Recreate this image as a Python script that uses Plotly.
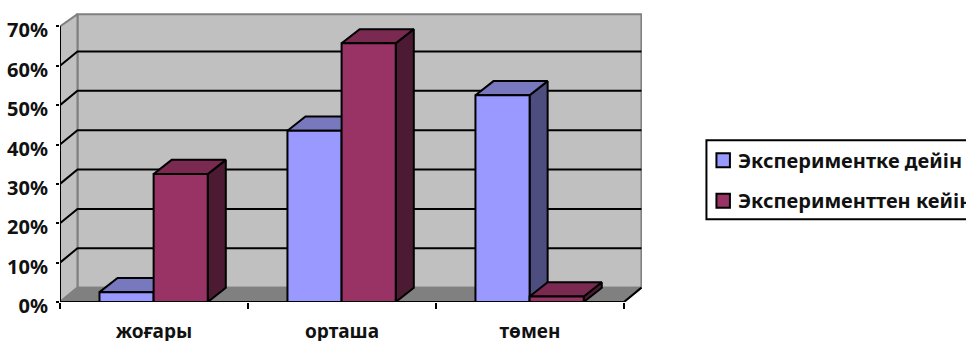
import plotly.graph_objects as go

categories = ["жоғары", "орташа", "төмен"]
series_names = ["Экспериментке дейін", "Эксперименттен кейін"]
before_values = [2.5, 43.5, 52.5]
after_values = [32.5, 65.7, 1.4]
y_ticks = [0, 10, 20, 30, 40, 50, 60, 70]

FRONT = ["#9999FF", "#993366"]
TOP = ["#7878BE", "#7A2950"]
SIDE = ["#4D4D80", "#4D1A33"]
WALL = "#C0C0C0"
FLOOR = "#808080"
EDGE = "#000000"

WIDTH, HEIGHT = 966, 341
LEFT, RIGHT = 60, 642.5
BOTTOM = 301.7
WALL_DX, WALL_DY = 0.093, 3.65
BAR_DX, BAR_DY = 0.096, 3.6
BAR_W = 0.288
WALL_TOP = 73.1
X0, X1 = -0.5, 2.5
Y_MAX = 73.65
TOP_PX = 11.6

fig = go.Figure()


def poly(xs, ys, fill, line=EDGE, width=2, name=""):
    fig.add_trace(go.Scatter(
        x=list(xs) + [xs[0]], y=list(ys) + [ys[0]], mode="lines", fill="toself",
        fillcolor=fill, line=dict(color=line, width=width), name=name,
        hoverinfo="skip", showlegend=False, cliponaxis=False,
    ))


def seg(xs, ys, color=EDGE, width=2):
    fig.add_trace(go.Scatter(
        x=xs, y=ys, mode="lines", line=dict(color=color, width=width),
        hoverinfo="skip", showlegend=False, cliponaxis=False,
    ))


# Room behind the bars: back wall, side wall and floor
bx0, bx1 = X0 + WALL_DX, X1 + WALL_DX
poly([bx0, bx1, bx1, bx0], [WALL_DY, WALL_DY, WALL_TOP, WALL_TOP], WALL, line=FLOOR, name="wall")
poly([X0, X0, bx0, bx0], [0, 70, WALL_TOP, WALL_DY], WALL, line=FLOOR, name="side wall")
poly([X0, X1, bx1, bx0], [0, 0, WALL_DY, WALL_DY], FLOOR, line=FLOOR, name="floor")

# Gridlines run along the back wall and step down the side wall
for v in y_ticks[1:-1]:
    seg([X0, bx0, bx1], [v, v + WALL_DY, v + WALL_DY])
seg([X1, bx1], [0, WALL_DY])


# One box per value, painted back to front within each group
def box(left, value, s):
    right = left + BAR_W
    poly([right, right + BAR_DX, right + BAR_DX, right],
         [0, BAR_DY, value + BAR_DY, value], SIDE[s], name=series_names[s])
    poly([left, right, right + BAR_DX, left + BAR_DX],
         [value, value, value + BAR_DY, value + BAR_DY], TOP[s], name=series_names[s])
    poly([left, right, right, left], [0, 0, value, value], FRONT[s], name=series_names[s])


for i in range(len(categories)):
    box(i - 0.002 - BAR_W, before_values[i], 0)
    box(i - 0.002, after_values[i], 1)

# Front axis lines
seg([X0, X0], [0, 70])
seg([X0, X1], [0, 0])

font = dict(family="Noto Sans", size=20, color="#111111", weight=700)
cat_font = dict(family="Noto Sans", size=19, color="#111111", weight=700)

fig.update_layout(
    width=WIDTH, height=HEIGHT, autosize=False,
    margin=dict(l=LEFT, r=WIDTH - RIGHT, t=TOP_PX, b=HEIGHT - BOTTOM, pad=0, autoexpand=False),
    paper_bgcolor="#FFFFFF", plot_bgcolor="#FFFFFF", showlegend=False,
    xaxis=dict(
        range=[X0, X1 + WALL_DX + 0.003], tickmode="array",
        tickvals=list(range(len(categories))), ticktext=categories,
        ticks="", ticklen=0, ticklabelstandoff=16, showgrid=False, zeroline=False, showline=False,
        tickfont=cat_font,
        minor=dict(tickmode="array", tickvals=[-0.5, 0.5, 1.5, 2.5], ticks="outside",
                   ticklen=6, tickwidth=2, tickcolor=EDGE, showgrid=False),
    ),
    yaxis=dict(
        range=[0, Y_MAX], tickmode="array", tickvals=y_ticks,
        ticktext=[f"{v}%" for v in y_ticks], ticks="outside", ticklen=3, tickwidth=2,
        tickcolor=EDGE, ticklabelstandoff=4, ticklabelshift=4, showgrid=False, zeroline=False,
        showline=False, tickfont=font,
    ),
)

# Legend box runs past the right edge of the page, so it is laid out in paper space
plot_w = RIGHT - LEFT
plot_h = BOTTOM - TOP_PX


def px(x):
    return (x - LEFT) / plot_w


def py(y):
    return (BOTTOM - y) / plot_h


fig.add_shape(type="rect", xref="paper", yref="paper", x0=px(707), x1=px(1010),
              y0=py(219), y1=py(140), line=dict(color=EDGE, width=2), fillcolor="#FFFFFF")
for s, (name, yc) in enumerate(zip(series_names, [160, 200.5])):
    fig.add_shape(type="rect", xref="paper", yref="paper", x0=px(717), x1=px(730.5),
                  y0=py(yc + 7), y1=py(yc - 7), line=dict(color=EDGE, width=2), fillcolor=FRONT[s])
    fig.add_annotation(text=name, xref="paper", yref="paper", x=px(737), y=py(yc),
                       xanchor="left", yanchor="middle", showarrow=False, font=font)

fig.write_html("out.html", config=dict(displayModeBar=False))
